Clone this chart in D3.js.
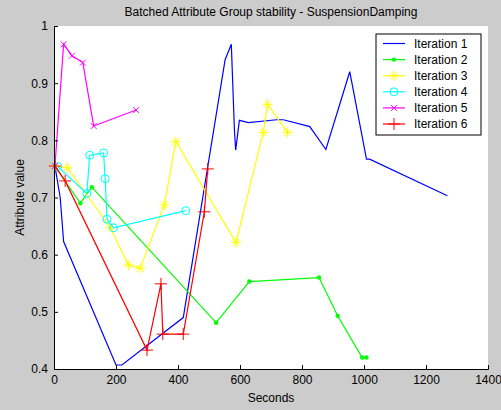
<!DOCTYPE html>
<html>
<head>
<meta charset="utf-8">
<script src="https://cdn.jsdelivr.net/npm/d3@7"></script>
<style>
  body { margin: 0; background: #cccccc; }
  svg text { font-family: "Liberation Sans", Arial, sans-serif; font-size: 12px; fill: #000; }
</style>
</head>
<body>
<div id="chart"></div>
<script>
// data
var seriesNames = ["Iteration 1", "Iteration 2", "Iteration 3", "Iteration 4", "Iteration 5", "Iteration 6"];
var iter1X = [3, 20, 31, 200, 219, 417, 552, 572, 582, 586, 598, 627, 718, 740, 825, 877, 954, 1008, 1018, 1269];
var iter1Y = [0.755, 0.70, 0.623, 0.407, 0.407, 0.49, 0.941, 0.968, 0.818, 0.783, 0.835, 0.831, 0.836, 0.836, 0.824, 0.784, 0.92, 0.767, 0.767, 0.703];
var iter2X = [3, 85, 122, 523, 630, 855, 915, 994, 1008];
var iter2Y = [0.755, 0.69, 0.718, 0.481, 0.553, 0.56, 0.493, 0.42, 0.42];
var iter3X = [3, 43, 181, 240, 278, 356, 393, 587, 675, 689, 753];
var iter3Y = [0.755, 0.752, 0.648, 0.582, 0.576, 0.687, 0.798, 0.621, 0.814, 0.863, 0.814];
var iter4X = [12, 106, 115, 160, 165, 171, 192, 425];
var iter4Y = [0.754, 0.707, 0.774, 0.778, 0.733, 0.662, 0.647, 0.677];
var iter5X = [3, 31, 58, 93, 128, 265];
var iter5Y = [0.755, 0.968, 0.948, 0.936, 0.825, 0.853];
var iter6X = [3, 36, 300, 345, 351, 417, 485, 496];
var iter6Y = [0.755, 0.729, 0.433, 0.549, 0.461, 0.461, 0.675, 0.75];
var xTicks = [0, 200, 400, 600, 800, 1000, 1200, 1400];
var yTicks = [0.4, 0.5, 0.6, 0.7, 0.8, 0.9, 1];

var colors = ["#0000ff", "#00ff00", "#ffff00", "#00ffff", "#ff00ff", "#ff0000"];
var markers = ["none", "dot", "star", "circle", "x", "plus"];

var series = [
  [iter1X, iter1Y], [iter2X, iter2Y], [iter3X, iter3Y],
  [iter4X, iter4Y], [iter5X, iter5Y], [iter6X, iter6Y]
].map(function (s, i) {
  return {
    name: seriesNames[i],
    color: colors[i],
    marker: markers[i],
    values: s[0].map((x, j) => ({ x: x, y: s[1][j] }))
  };
});

var width = 501, height = 410;
var margin = { top: 26, right: 13, bottom: 41, left: 54 };

var x = d3.scaleLinear().domain([0, 1400]).range([margin.left, width - margin.right]);
var y = d3.scaleLinear().domain([0.4, 1]).range([height - margin.bottom, margin.top]);

var svg = d3.select("#chart").append("svg")
  .attr("width", width)
  .attr("height", height);

svg.append("rect")
  .attr("x", margin.left).attr("y", margin.top)
  .attr("width", width - margin.left - margin.right)
  .attr("height", height - margin.top - margin.bottom)
  .attr("fill", "#fff");

// marker shapes
function drawMarker(g, type, color) {
  if (type == "dot") {
    g.append("circle").attr("r", 2.2).attr("fill", color);
  } else if (type == "circle") {
    g.append("circle").attr("r", 4).attr("fill", "none").attr("stroke", color);
  } else if (type == "x") {
    g.append("path").attr("d", "M-3,-3L3,3M-3,3L3,-3").attr("stroke", color);
  } else if (type == "plus") {
    g.append("path").attr("d", "M-6,0H6M0,-6V6").attr("stroke", color);
  } else if (type == "star") {
    g.append("path").attr("d", "M-5,0H5M0,-5V5M-3.5,-3.5L3.5,3.5M-3.5,3.5L3.5,-3.5").attr("stroke", color);
  }
}

var line = d3.line().x(d => x(d.x)).y(d => y(d.y));

var plot = svg.append("g");
series.forEach(function (s) {
  plot.append("path")
    .datum(s.values)
    .attr("fill", "none")
    .attr("stroke", s.color)
    .attr("stroke-width", 1.2)
    .attr("d", line);
  if (s.marker != "none") {
    s.values.forEach(function (d) {
      var m = plot.append("g").attr("transform", `translate(${x(d.x)},${y(d.y)})`);
      drawMarker(m, s.marker, s.color);
    });
  }
});

// axes (ticks point inward)
var xAxis = svg.append("g")
  .attr("transform", `translate(0,${height - margin.bottom})`)
  .call(d3.axisBottom(x).tickValues(xTicks).tickSize(-4).tickPadding(4).tickFormat(d3.format("d")));
var yAxis = svg.append("g")
  .attr("transform", `translate(${margin.left},0)`)
  .call(d3.axisLeft(y).tickValues(yTicks).tickSize(-4).tickPadding(6).tickFormat(d => d == 1 ? "1" : d3.format(".1f")(d)));

[xAxis, yAxis].forEach(function (a) {
  a.select(".domain").attr("stroke", "#000");
  a.selectAll(".tick line").attr("stroke", "#000");
  a.selectAll(".tick text").attr("font-size", 12).attr("font-family", "Liberation Sans, Arial, sans-serif");
});
xAxis.selectAll(".tick text").attr("dy", "0.71em").attr("y", 6);

// titles
svg.append("text")
  .attr("x", (margin.left + width - margin.right) / 2)
  .attr("y", 16)
  .attr("text-anchor", "middle")
  .text("Batched Attribute Group stability - SuspensionDamping");

svg.append("text")
  .attr("x", (margin.left + width - margin.right) / 2)
  .attr("y", 402)
  .attr("text-anchor", "middle")
  .text("Seconds");

svg.append("text")
  .attr("transform", `translate(24,${(margin.top + height - margin.bottom) / 2}) rotate(-90)`)
  .attr("text-anchor", "middle")
  .text("Attribute value");

// legend
var legend = svg.append("g").attr("transform", "translate(376,34)");
legend.append("rect")
  .attr("width", 105).attr("height", 101)
  .attr("fill", "#fff").attr("stroke", "#000");
series.forEach(function (s, i) {
  var row = legend.append("g").attr("transform", `translate(0,${9.5 + i * 16.1})`);
  row.append("line")
    .attr("x1", 7).attr("x2", 29)
    .attr("stroke", s.color).attr("stroke-width", 1.2);
  var m = row.append("g").attr("transform", "translate(18,0)");
  drawMarker(m, s.marker, s.color);
  row.append("text").attr("x", 38).attr("dy", "0.35em").text(s.name);
});
</script>
</body>
</html>
